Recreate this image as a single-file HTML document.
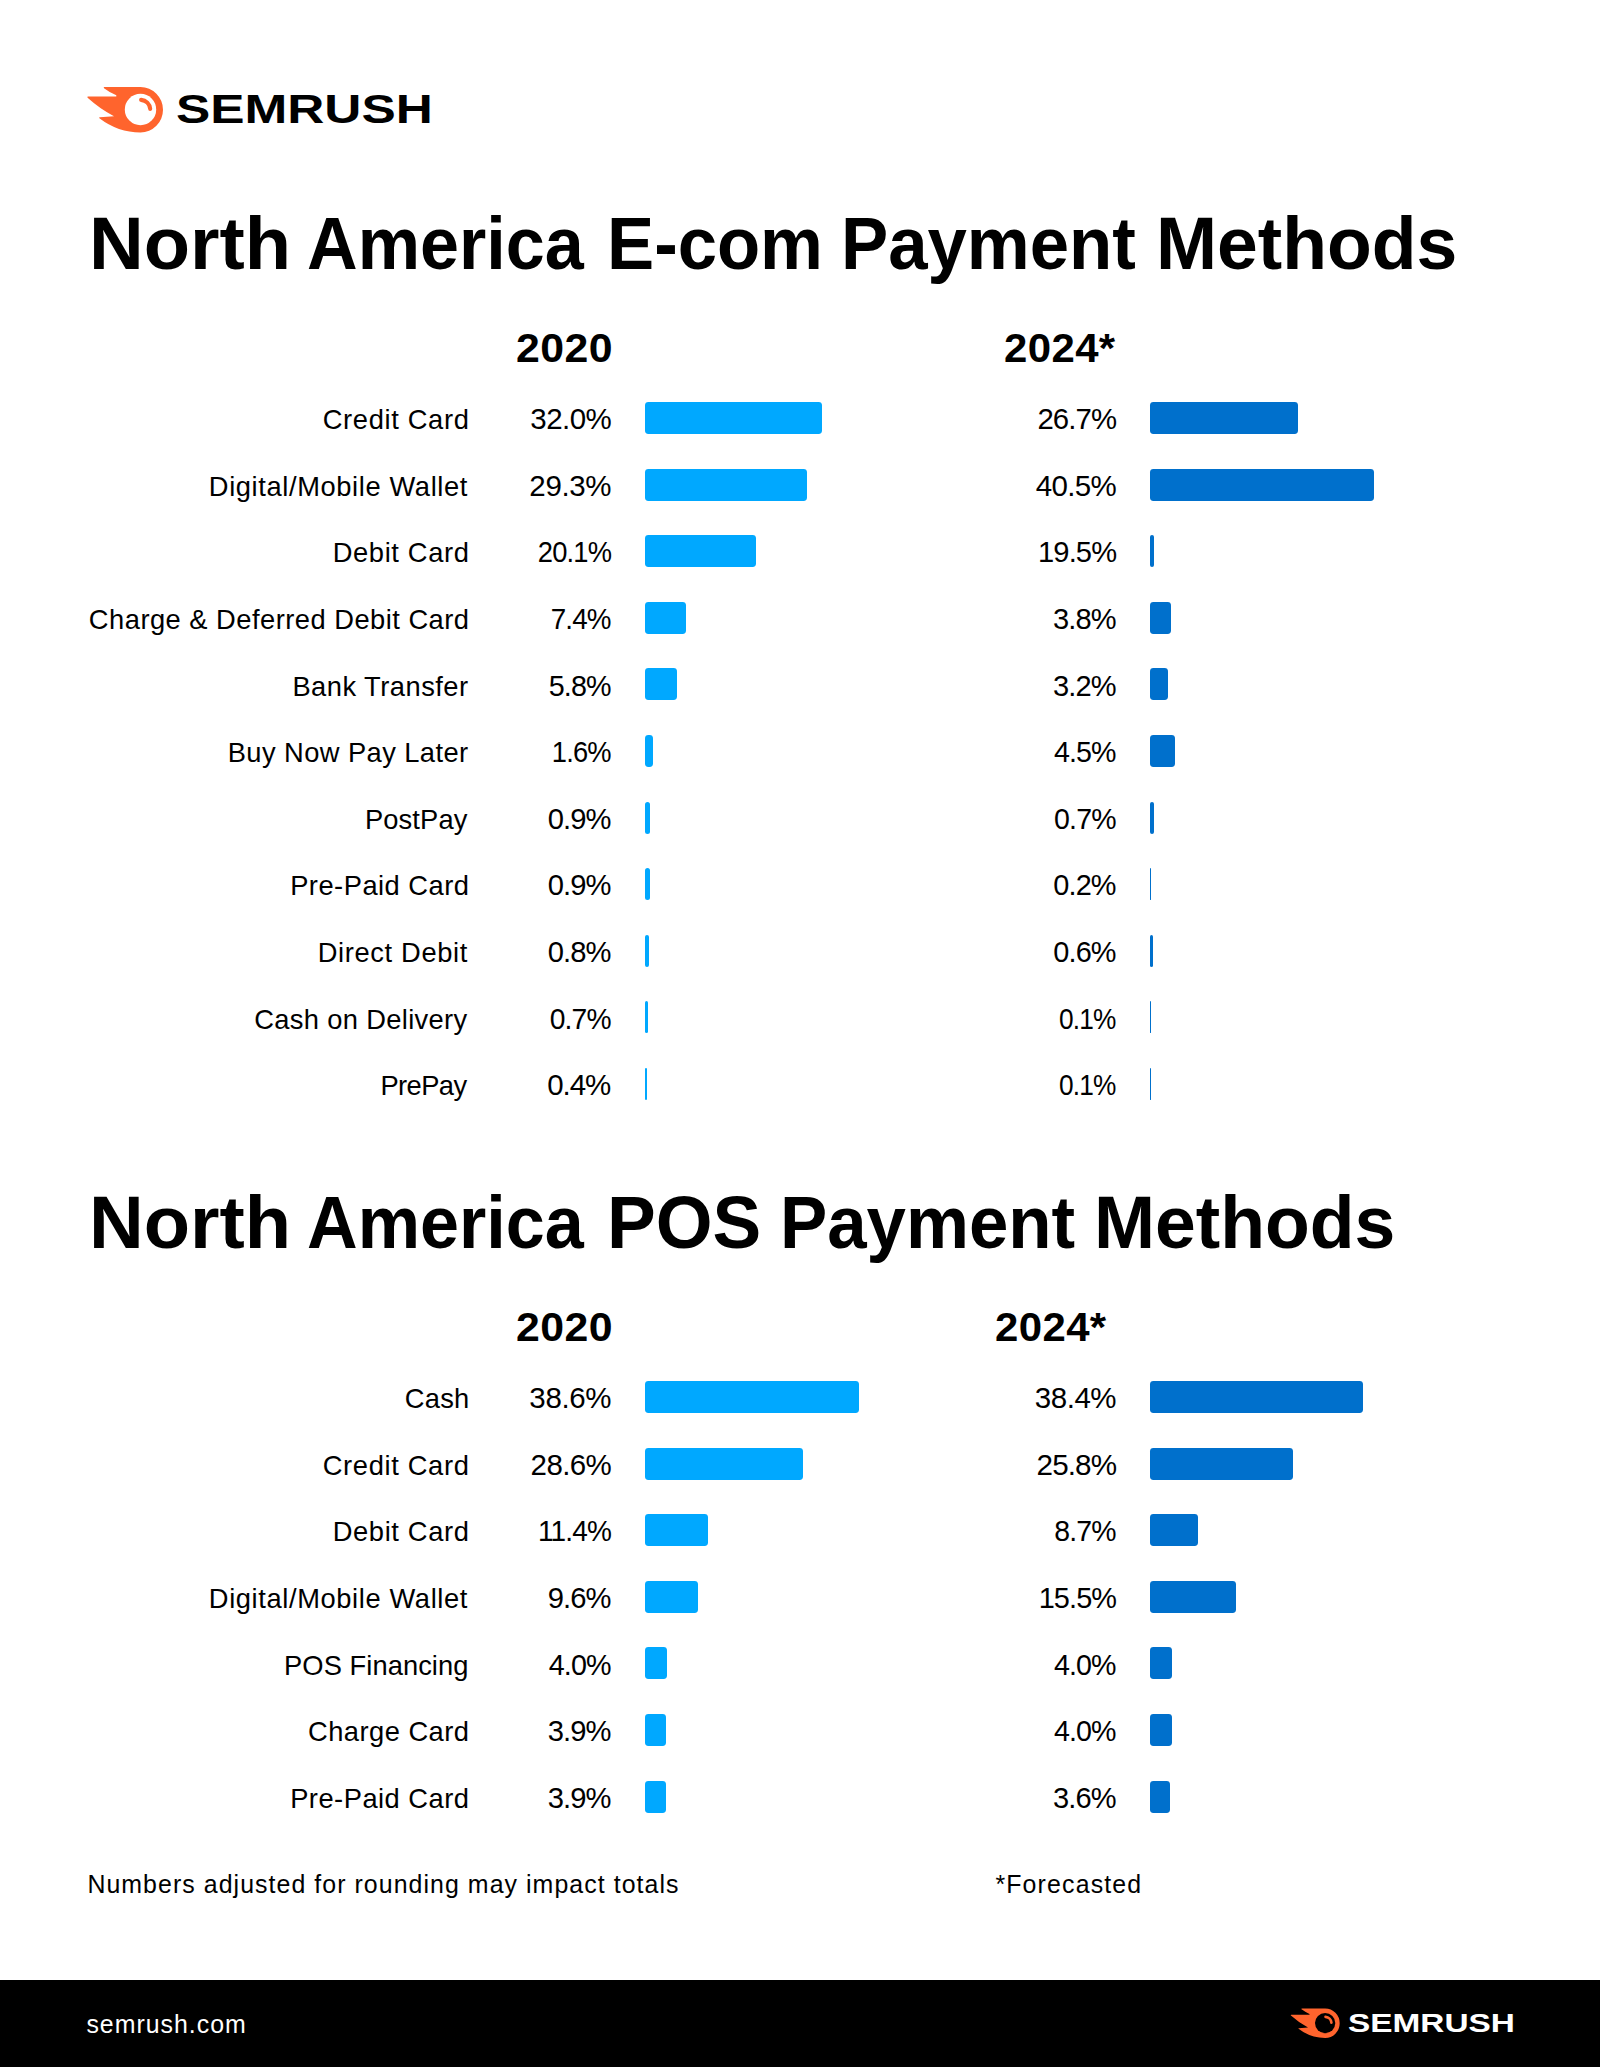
<!DOCTYPE html>
<html lang="en">
<head>
<meta charset="utf-8">
<title>North America Payment Methods</title>
<style>
html,body{margin:0;padding:0;}
body{width:1600px;height:2067px;position:relative;background:#fff;overflow:hidden;
 font-family:"Liberation Sans",Arial,Helvetica,sans-serif;color:#000;}
.logo{position:absolute;display:block;}
.wordmark{position:absolute;font-weight:700;white-space:nowrap;line-height:1;transform-origin:0 0;letter-spacing:0;}
h1{position:absolute;margin:0;left:0;width:1600px;height:75px;font-weight:700;font-size:75px;line-height:1;white-space:nowrap;}
h1 span{position:absolute;top:0;display:block;transform-origin:0 0;}
.yr{position:absolute;font-weight:700;font-size:41px;line-height:1;white-space:nowrap;transform-origin:0 0;letter-spacing:.4px;}
.row{position:absolute;left:0;width:1600px;height:32px;}
.row span{position:absolute;top:2px;height:32px;line-height:32px;white-space:nowrap;text-align:right;}
.lab{right:1132px;font-size:27.3px;}
.row .pc{font-size:29.5px;top:0.6px;transform-origin:100% 50%;}
.p1{right:988.5px;}
.p2{right:483.5px;}
.bar{position:absolute;top:0;height:32px;border-radius:3.4px;display:block;}
.b1{left:644.6px;background:#00a8ff;}
.b2{left:1150px;background:#0070cc;}
.note{position:absolute;margin:0;font-size:24.9px;line-height:1;white-space:nowrap;}
footer{position:absolute;left:0;top:1980px;width:1600px;height:87px;background:#000;color:#fff;}
footer .site{position:absolute;top:0;font-size:24.9px;line-height:1;white-space:nowrap;}
</style>
</head>
<body>
<header>
<svg class="logo" style="left:80px;top:80px" width="90.00" height="60.00" viewBox="0 0 90 60" aria-hidden="true">
<path fill="#ff642d" d="M24.4 7.1 L60.5 7 A22.5 22.75 0 0 1 60.5 52.5 Q38 52.5 19.4 38.3 Q18.6 37.4 19.8 37.3 L34 36.3 Q20 29 7.6 17.8 Q6.8 16.7 8.2 16.6 L36.3 16.6 L36.3 15.3 Q29 12 24 8.2 Q23.2 7.2 24.4 7.1 Z"/>
<circle cx="60.5" cy="29.5" r="15.7" fill="#fff"/>
<path fill="none" stroke="#ff642d" stroke-width="4.1" stroke-linecap="round" d="M61.1 19.85 A9.75 9.75 0 0 1 70.2 28.9"/>
</svg>
<div class="wordmark" id="kwm1" style="left:175.91px;transform:scaleX(1.2432);top:88.6px;font-size:41.3px">SEMRUSH</div>
</header>
<main>
<section>
<h1 style="top:205.7px"><span id="t1w0" style="left:88.73px;transform:scaleX(1.0104)">North</span> <span id="t1w1" style="left:306.55px;transform:scaleX(0.9347)">America</span> <span id="t1w2" style="left:607.42px;transform:scaleX(0.9421)">E-com</span> <span id="t1w3" style="left:841.10px;transform:scaleX(0.9430)">Payment</span> <span id="t1w4" style="left:1155.60px;transform:scaleX(0.9774)">Methods</span></h1>
<div class="yr" id="y1a" style="left:515.96px;transform:scaleX(1.0444);top:327.5px">2020</div>
<div class="yr" id="y1b" style="left:1003.98px;transform:scaleX(1.0222);top:327.5px">2024*</div>
<div class="row" style="top:402.0px"><span class="lab" id="c1l0" style="top:1.56px;letter-spacing:0.658px;margin-right:-1.50px;">Credit Card</span><span class="pc p1" id="c1a0" style="top:0.80px;letter-spacing:-0.555px;margin-right:0.30px;">32.0%</span><i class="bar b1" style="width:177.2px"></i><span class="pc p2" id="c1b0" style="top:0.80px;letter-spacing:-0.900px;margin-right:0.40px;transform:scaleX(0.9950);">26.7%</span><i class="bar b2" style="width:148px"></i></div>
<div class="row" style="top:468.6px"><span class="lab" id="c1l1" style="top:1.96px;letter-spacing:0.615px;margin-right:-0.00px;">Digital/Mobile Wallet</span><span class="pc p1" id="c1a1" style="top:1.20px;letter-spacing:-0.360px;margin-right:0.30px;">29.3%</span><i class="bar b1" style="width:162.3px"></i><span class="pc p2" id="c1b1" style="top:1.20px;letter-spacing:-0.665px;margin-right:0.40px;">40.5%</span><i class="bar b2" style="width:224.4px"></i></div>
<div class="row" style="top:535.2px"><span class="lab" id="c1l2" style="top:1.36px;letter-spacing:0.631px;margin-right:-1.50px;">Debit Card</span><span class="pc p1" id="c1a2" style="top:0.60px;letter-spacing:-0.900px;margin-right:0.30px;transform:scaleX(0.9261);">20.1%</span><i class="bar b1" style="width:111.4px"></i><span class="pc p2" id="c1b2" style="top:0.60px;letter-spacing:-0.900px;margin-right:0.40px;transform:scaleX(0.9872);">19.5%</span><i class="bar b2" style="width:4px"></i></div>
<div class="row" style="top:601.8px"><span class="lab" id="c1l3" style="top:1.76px;letter-spacing:0.481px;margin-right:-1.50px;">Charge &amp; Deferred Debit Card</span><span class="pc p1" id="c1a3" style="top:1.00px;letter-spacing:-0.900px;margin-right:1.30px;transform:scaleX(0.9416);">7.4%</span><i class="bar b1" style="width:41px"></i><span class="pc p2" id="c1b3" style="top:1.00px;letter-spacing:-0.900px;margin-right:0.40px;transform:scaleX(0.9858);">3.8%</span><i class="bar b2" style="width:21px"></i></div>
<div class="row" style="top:668.4px"><span class="lab" id="c1l4" style="top:2.16px;letter-spacing:0.482px;margin-right:-0.60px;">Bank Transfer</span><span class="pc p1" id="c1a4" style="top:1.40px;letter-spacing:-0.900px;margin-right:1.30px;transform:scaleX(0.9732);">5.8%</span><i class="bar b1" style="width:32.1px"></i><span class="pc p2" id="c1b4" style="top:1.40px;letter-spacing:-0.900px;margin-right:0.40px;transform:scaleX(0.9858);">3.2%</span><i class="bar b2" style="width:17.7px"></i></div>
<div class="row" style="top:735.0px"><span class="lab" id="c1l5" style="top:1.56px;letter-spacing:0.424px;margin-right:-0.60px;">Buy Now Pay Later</span><span class="pc p1" id="c1a5" style="top:0.80px;letter-spacing:-0.900px;margin-right:1.30px;transform:scaleX(0.9247);">1.6%</span><i class="bar b1" style="width:8.9px"></i><span class="pc p2" id="c1b5" style="top:0.80px;letter-spacing:-0.900px;margin-right:0.40px;transform:scaleX(0.9705);">4.5%</span><i class="bar b2" style="width:24.9px"></i></div>
<div class="row" style="top:801.6px"><span class="lab" id="c1l6" style="top:1.96px;letter-spacing:0.130px;margin-right:0.50px;">PostPay</span><span class="pc p1" id="c1a6" style="top:1.20px;letter-spacing:-0.900px;margin-right:1.30px;transform:scaleX(0.9890);">0.9%</span><i class="bar b1" style="width:5px"></i><span class="pc p2" id="c1b6" style="top:1.20px;letter-spacing:-0.900px;margin-right:0.40px;transform:scaleX(0.9669);">0.7%</span><i class="bar b2" style="width:3.9px"></i></div>
<div class="row" style="top:868.2px"><span class="lab" id="c1l7" style="top:1.36px;letter-spacing:0.492px;margin-right:-1.50px;">Pre-Paid Card</span><span class="pc p1" id="c1a7" style="top:0.60px;letter-spacing:-0.900px;margin-right:1.30px;transform:scaleX(0.9890);">0.9%</span><i class="bar b1" style="width:5px"></i><span class="pc p2" id="c1b7" style="top:0.60px;letter-spacing:-0.900px;margin-right:0.40px;transform:scaleX(0.9796);">0.2%</span><i class="bar b2" style="width:1.1px"></i></div>
<div class="row" style="top:934.8px"><span class="lab" id="c1l8" style="top:1.76px;letter-spacing:0.645px;margin-right:-0.00px;">Direct Debit</span><span class="pc p1" id="c1a8" style="top:1.00px;letter-spacing:-0.900px;margin-right:1.30px;transform:scaleX(0.9890);">0.8%</span><i class="bar b1" style="width:4.4px"></i><span class="pc p2" id="c1b8" style="top:1.00px;letter-spacing:-0.900px;margin-right:0.40px;transform:scaleX(0.9796);">0.6%</span><i class="bar b2" style="width:3.3px"></i></div>
<div class="row" style="top:1001.4px"><span class="lab" id="c1l9" style="top:2.16px;letter-spacing:0.340px;margin-right:0.50px;">Cash on Delivery</span><span class="pc p1" id="c1a9" style="top:1.40px;letter-spacing:-0.900px;margin-right:1.30px;transform:scaleX(0.9574);">0.7%</span><i class="bar b1" style="width:3.9px"></i><span class="pc p2" id="c1b9" style="top:1.40px;letter-spacing:-0.900px;margin-right:0.40px;transform:scaleX(0.8910);">0.1%</span><i class="bar b2" style="width:0.6px"></i></div>
<div class="row" style="top:1068.0px"><span class="lab" id="c1l10" style="top:1.56px;letter-spacing:-0.580px;margin-right:1.50px;">PrePay</span><span class="pc p1" id="c1a10" style="top:0.80px;letter-spacing:-1.080px;margin-right:1.30px;">0.4%</span><i class="bar b1" style="width:2.2px"></i><span class="pc p2" id="c1b10" style="top:0.80px;letter-spacing:-0.900px;margin-right:0.40px;transform:scaleX(0.8910);">0.1%</span><i class="bar b2" style="width:0.6px"></i></div>
</section>
<section>
<h1 style="top:1184.9px"><span id="t2w0" style="left:88.73px;transform:scaleX(1.0104)">North</span> <span id="t2w1" style="left:306.55px;transform:scaleX(0.9347)">America</span> <span id="t2w2" style="left:606.79px;transform:scaleX(0.9737)">POS</span> <span id="t2w3" style="left:779.86px;transform:scaleX(0.9440)">Payment</span> <span id="t2w4" style="left:1094.36px;transform:scaleX(0.9774)">Methods</span></h1>
<div class="yr" id="y2a" style="left:515.96px;transform:scaleX(1.0444);top:1306.5px">2020</div>
<div class="yr" id="y2b" style="left:995.00px;transform:scaleX(1.0221);top:1306.5px">2024*</div>
<div class="row" style="top:1381.0px"><span class="lab" id="c2l0" style="top:1.56px;letter-spacing:0.267px;margin-right:-1.50px;">Cash</span><span class="pc p1" id="c2a0" style="top:0.80px;letter-spacing:-0.360px;margin-right:0.30px;">38.6%</span><i class="bar b1" style="width:214.2px"></i><span class="pc p2" id="c2b0" style="top:0.80px;letter-spacing:-0.475px;margin-right:0.40px;">38.4%</span><i class="bar b2" style="width:212.7px"></i></div>
<div class="row" style="top:1447.6px"><span class="lab" id="c2l1" style="top:1.96px;letter-spacing:0.658px;margin-right:-1.50px;">Credit Card</span><span class="pc p1" id="c2a1" style="top:1.20px;letter-spacing:-0.610px;margin-right:0.30px;">28.6%</span><i class="bar b1" style="width:158.4px"></i><span class="pc p2" id="c2b1" style="top:1.20px;letter-spacing:-0.900px;margin-right:0.40px;transform:scaleX(1.0053);">25.8%</span><i class="bar b2" style="width:142.9px"></i></div>
<div class="row" style="top:1514.2px"><span class="lab" id="c2l2" style="top:1.36px;letter-spacing:0.631px;margin-right:-1.50px;">Debit Card</span><span class="pc p1" id="c2a2" style="top:0.60px;letter-spacing:-0.900px;margin-right:0.30px;transform:scaleX(0.9496);">11.4%</span><i class="bar b1" style="width:63.2px"></i><span class="pc p2" id="c2b2" style="top:0.60px;letter-spacing:-0.900px;margin-right:0.40px;transform:scaleX(0.9637);">8.7%</span><i class="bar b2" style="width:48.2px"></i></div>
<div class="row" style="top:1580.8px"><span class="lab" id="c2l3" style="top:1.76px;letter-spacing:0.615px;margin-right:-0.00px;">Digital/Mobile Wallet</span><span class="pc p1" id="c2a3" style="top:1.00px;letter-spacing:-0.900px;margin-right:1.30px;transform:scaleX(0.9890);">9.6%</span><i class="bar b1" style="width:53.2px"></i><span class="pc p2" id="c2b3" style="top:1.00px;letter-spacing:-0.900px;margin-right:0.40px;transform:scaleX(0.9794);">15.5%</span><i class="bar b2" style="width:85.9px"></i></div>
<div class="row" style="top:1647.4px"><span class="lab" id="c2l4" style="top:2.16px;letter-spacing:0.065px;margin-right:-0.50px;">POS Financing</span><span class="pc p1" id="c2a4" style="top:1.40px;letter-spacing:-0.900px;margin-right:1.30px;transform:scaleX(0.9737);">4.0%</span><i class="bar b1" style="width:22.2px"></i><span class="pc p2" id="c2b4" style="top:1.40px;letter-spacing:-0.900px;margin-right:0.40px;transform:scaleX(0.9705);">4.0%</span><i class="bar b2" style="width:22.2px"></i></div>
<div class="row" style="top:1714.0px"><span class="lab" id="c2l5" style="top:1.56px;letter-spacing:0.478px;margin-right:-1.50px;">Charge Card</span><span class="pc p1" id="c2a5" style="top:0.80px;letter-spacing:-0.900px;margin-right:1.30px;transform:scaleX(0.9890);">3.9%</span><i class="bar b1" style="width:21.6px"></i><span class="pc p2" id="c2b5" style="top:0.80px;letter-spacing:-0.900px;margin-right:0.40px;transform:scaleX(0.9705);">4.0%</span><i class="bar b2" style="width:22.2px"></i></div>
<div class="row" style="top:1780.6px"><span class="lab" id="c2l6" style="top:1.96px;letter-spacing:0.492px;margin-right:-1.50px;">Pre-Paid Card</span><span class="pc p1" id="c2a6" style="top:1.20px;letter-spacing:-0.900px;margin-right:1.30px;transform:scaleX(0.9890);">3.9%</span><i class="bar b1" style="width:21.6px"></i><span class="pc p2" id="c2b6" style="top:1.20px;letter-spacing:-0.900px;margin-right:0.40px;transform:scaleX(0.9858);">3.6%</span><i class="bar b2" style="width:19.9px"></i></div>
</section>
<p class="note" id="n1" style="left:87.40px;letter-spacing:1.060px;top:1871.6px">Numbers adjusted for rounding may impact totals</p>
<p class="note" id="n2" style="left:995.40px;letter-spacing:1.156px;top:1871.6px">*Forecasted</p>
</main>
<footer>
<div class="site" id="site" style="left:86.40px;letter-spacing:1.000px;top:31.8px">semrush.com</div>
<svg class="logo" style="left:1286.4px;top:24.1px" width="58.23" height="38.82" viewBox="0 0 90 60" aria-hidden="true">
<path fill="#ff642d" d="M24.4 7.1 L60.5 7 A22.5 22.75 0 0 1 60.5 52.5 Q38 52.5 19.4 38.3 Q18.6 37.4 19.8 37.3 L34 36.3 Q20 29 7.6 17.8 Q6.8 16.7 8.2 16.6 L36.3 16.6 L36.3 15.3 Q29 12 24 8.2 Q23.2 7.2 24.4 7.1 Z"/>
<circle cx="60.5" cy="29.5" r="15.7" fill="#000"/>
<path fill="none" stroke="#ff642d" stroke-width="4.1" stroke-linecap="round" d="M61.1 19.85 A9.75 9.75 0 0 1 70.2 28.9"/>
</svg>
<div class="wordmark" id="kwm2" style="left:1348.33px;transform:scaleX(1.2504);top:30px;font-size:26.7px">SEMRUSH</div>
</footer>
</body>
</html>
